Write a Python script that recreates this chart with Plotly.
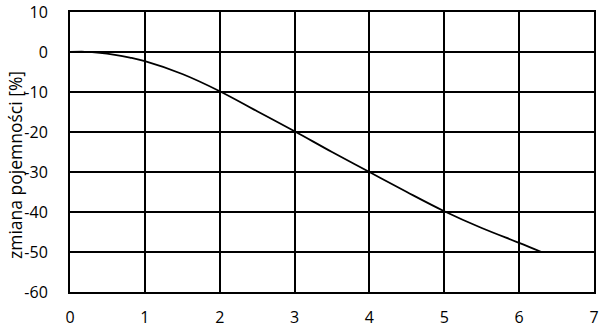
import plotly.graph_objects as go

x_vals = [0, 0.2, 0.4, 0.6, 0.8, 1.0, 1.5, 2.0, 2.5, 3.0, 3.5, 4.0, 4.5, 5.0, 5.5, 6.0, 6.3]
y_vals = [0, 0.05, -0.2, -0.7, -1.4, -2.3, -5.5, -9.8, -14.8, -19.8, -25.0, -30.0, -35.0, -39.8, -44.0, -47.7, -50.0]
x_ticks = [0, 1, 2, 3, 4, 5, 6, 7]
y_ticks = [10, 0, -10, -20, -30, -40, -50, -60]
y_tick_labels = ["10", "0", "-10", "-20", "-30", "-40", "-50", "-60"]
y_title = "zmiana pojemności [%]"

fig = go.Figure()
fig.add_trace(go.Scatter(x=x_vals, y=y_vals, mode="lines", line=dict(color="black", width=1.8, shape="spline"),
                         showlegend=False, hoverinfo="skip"))

font = dict(family="Open Sans", size=16, color="black")
fig.update_layout(
    width=600, height=330,
    margin=dict(l=70, r=6, t=12, b=38),
    paper_bgcolor="white", plot_bgcolor="white",
    font=font,
    xaxis=dict(range=[0, 7], tickvals=x_ticks, showgrid=True, gridcolor="black", gridwidth=2,
               showline=True, linecolor="black", linewidth=2, mirror=True, zeroline=False,
               ticks="", ticklabelstandoff=10, tickfont=font, automargin=False),
    yaxis=dict(range=[-60, 10], tickvals=y_ticks, ticktext=y_tick_labels, showgrid=True,
               gridcolor="black", gridwidth=2,
               showline=True, linecolor="black", linewidth=2, mirror=True, zeroline=False,
               ticks="", ticklabelstandoff=17, tickfont=font, automargin=False),
    annotations=[dict(text=y_title, textangle=-90, xref="paper", yref="paper",
                      x=(15 - 70) / 524, y=(292 - 165) / 280, xanchor="center", yanchor="middle",
                      showarrow=False, font=dict(family="Open Sans", size=17.5, color="black"))],
)
fig.write_html("out.html")
